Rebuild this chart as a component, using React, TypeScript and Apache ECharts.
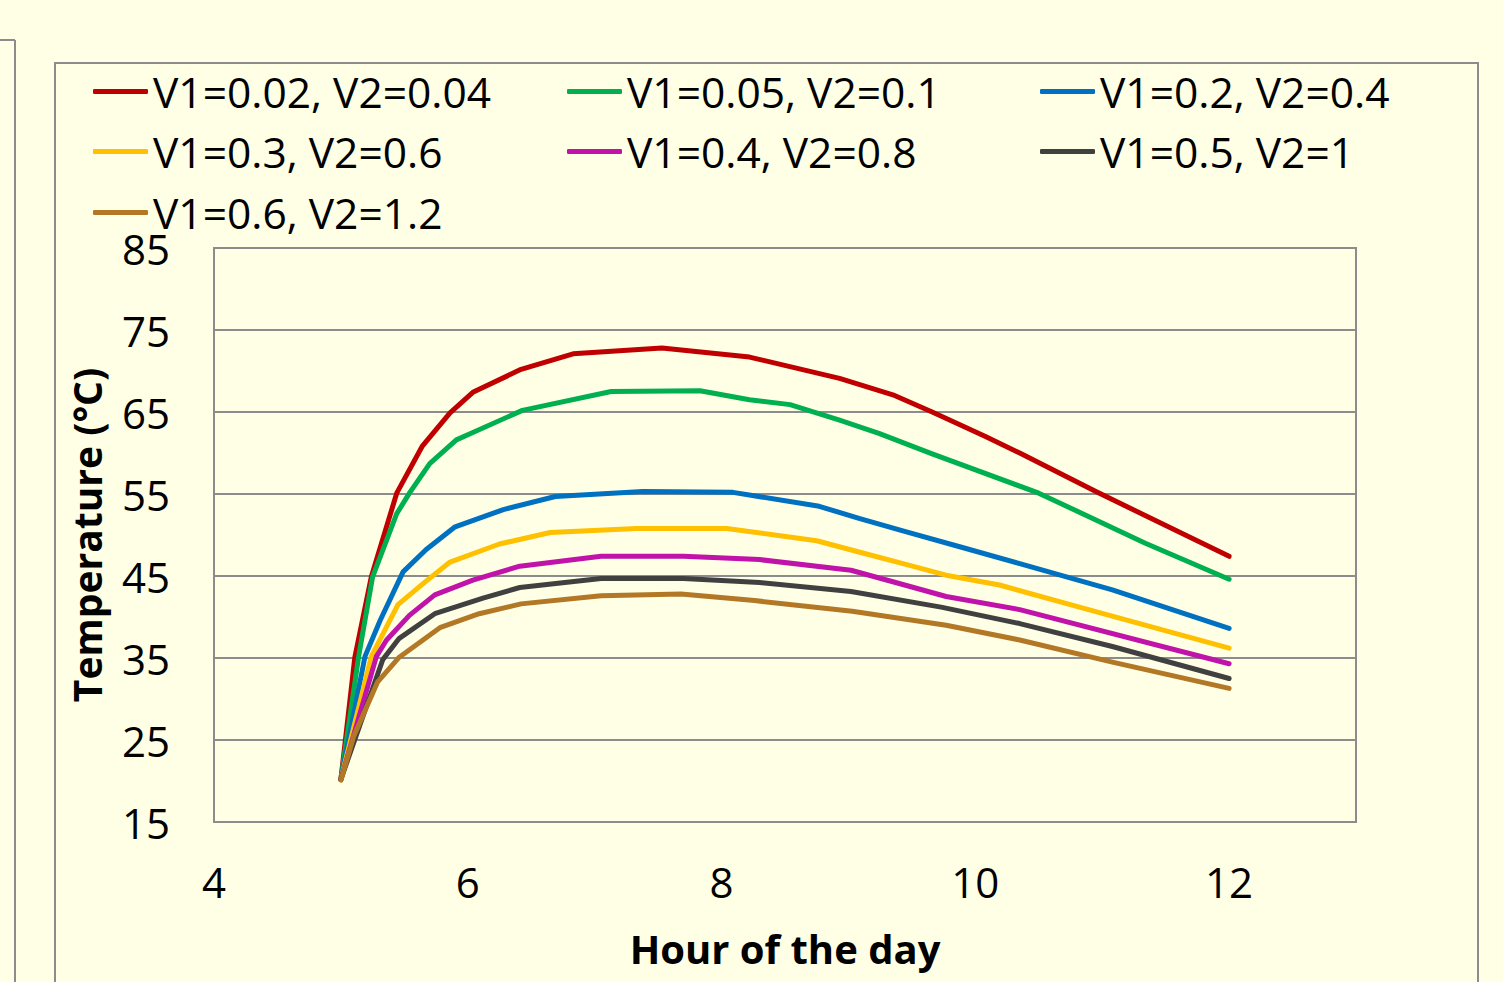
import React, { useEffect, useRef } from "react";
import * as echarts from "echarts";

const xTicks = [4, 6, 8, 10, 12];
const yTicks = [15, 25, 35, 45, 55, 65, 75, 85];

const seriesNames = [
  "V1=0.02, V2=0.04",
  "V1=0.05, V2=0.1",
  "V1=0.2, V2=0.4",
  "V1=0.3, V2=0.6",
  "V1=0.4, V2=0.8",
  "V1=0.5, V2=1",
  "V1=0.6, V2=1.2",
];

const seriesColors = ["#C00000", "#00B050", "#0070C0", "#FFC000", "#C013AA", "#404040", "#B27826"];

const s1 = [
  [5.0, 20.2], [5.11, 35.1], [5.24, 44.9], [5.44, 55.1], [5.64, 60.8], [5.86, 64.9], [6.04, 67.4],
  [6.42, 70.2], [6.83, 72.1], [7.53, 72.8], [8.22, 71.7], [8.93, 69.1], [9.35, 67.1], [9.66, 65.0],
  [10.08, 62.0], [10.35, 60.0], [10.95, 55.3], [12.0, 47.4],
];
const s2 = [
  [5.0, 20.2], [5.14, 35.2], [5.25, 44.9], [5.44, 52.6], [5.54, 55.1], [5.70, 58.7], [5.91, 61.6],
  [6.04, 62.5], [6.43, 65.2], [7.13, 67.5], [7.83, 67.6], [8.22, 66.5], [8.54, 65.9], [8.93, 64.0],
  [9.24, 62.4], [9.66, 59.9], [10.5, 55.1], [11.34, 49.0], [12.0, 44.6],
];
const s3 = [
  [5.0, 20.2], [5.19, 35.2], [5.31, 39.6], [5.49, 45.5], [5.67, 48.2], [5.90, 51.0], [6.28, 53.1],
  [6.69, 54.7], [7.38, 55.3], [8.09, 55.2], [8.77, 53.5], [9.09, 52.0], [9.45, 50.4], [9.87, 48.6],
  [10.35, 46.5], [11.08, 43.3], [12.0, 38.6],
];
const s4 = [
  [5.0, 20.2], [5.24, 35.2], [5.45, 41.5], [5.65, 44.1], [5.86, 46.7], [6.25, 48.9], [6.65, 50.3],
  [7.33, 50.8], [8.04, 50.8], [8.75, 49.3], [9.09, 47.9], [9.43, 46.5], [9.77, 45.1], [10.19, 43.9],
  [10.82, 41.2], [12.0, 36.2],
];
const s5 = [
  [5.0, 20.2], [5.28, 35.2], [5.36, 37.2], [5.54, 40.2], [5.74, 42.7], [6.04, 44.5], [6.41, 46.2],
  [7.05, 47.4], [7.70, 47.4], [8.30, 47.0], [9.02, 45.7], [9.35, 44.3], [9.77, 42.5], [10.35, 40.9],
  [12.0, 34.3],
];
const s6 = [
  [5.0, 20.2], [5.33, 34.8], [5.46, 37.4], [5.74, 40.4], [6.12, 42.3], [6.41, 43.6], [7.05, 44.7],
  [7.70, 44.7], [8.30, 44.2], [9.02, 43.1], [9.73, 41.2], [10.35, 39.2], [11.08, 36.4], [12.0, 32.5],
];
const s7 = [
  [5.0, 20.1], [5.10, 25.4], [5.29, 32.1], [5.46, 35.1], [5.78, 38.7], [6.09, 40.4], [6.42, 41.6],
  [7.05, 42.6], [7.68, 42.8], [8.26, 42.0], [9.03, 40.7], [9.77, 39.0], [10.35, 37.2], [11.08, 34.5],
  [12.0, 31.3],
];
const seriesData = [s1, s2, s3, s4, s5, s6, s7];

const FONT = "'Open Sans', 'Noto Sans', sans-serif";
const BG = "#FFFFE5";
const BORDER = "#8C8C8C";

export default function App() {
  const ref = useRef<HTMLDivElement>(null);
  useEffect(() => {
    if (!ref.current) return;
    const chart = echarts.init(ref.current, undefined, { renderer: "svg" });
    const legendLeft = [93, 567, 1040];
    const legendTop = [70, 130, 191];
    const legends = seriesNames.map((name, i) => ({
      data: [name],
      left: legendLeft[i % 3],
      top: legendTop[Math.floor(i / 3)],
      padding: 0,
      icon: "roundRect",
      itemWidth: 55,
      itemHeight: 5,
      selectedMode: false,
      textStyle: { fontFamily: FONT, fontSize: 42.5, color: "#000", padding: [0, 0, 0, 0] },
    }));
    chart.setOption({
      animation: false,
      backgroundColor: BG,
      textStyle: { fontFamily: FONT },
      legend: legends,
      grid: {
        left: 214,
        top: 248,
        right: 147,
        bottom: 160,
        show: true,
        borderColor: BORDER,
        borderWidth: 2,
        backgroundColor: "transparent",
      },
      xAxis: {
        type: "value",
        min: 4,
        max: 13,
        interval: 2,
        name: "Hour of the day",
        nameLocation: "middle",
        nameGap: 106,
        nameTextStyle: { fontFamily: FONT, fontSize: 40, fontWeight: "bold", color: "#000" },
        axisLine: { show: false },
        axisTick: { show: false },
        splitLine: { show: false },
        axisLabel: {
          fontFamily: FONT,
          fontSize: 42,
          color: "#000",
          margin: 38,
          showMaxLabel: false,
          formatter: (v: number) => (xTicks.includes(v) ? String(v) : ""),
        },
      },
      yAxis: {
        type: "value",
        min: 15,
        max: 85,
        interval: 10,
        name: "Temperature (°C)",
        nameLocation: "middle",
        nameGap: 108,
        nameRotate: 90,
        nameTextStyle: { fontFamily: FONT, fontSize: 39, fontWeight: "bold", color: "#000" },
        axisLine: { show: false },
        axisTick: { show: false },
        splitLine: { show: true, lineStyle: { color: BORDER, width: 2 } },
        axisLabel: {
          fontFamily: FONT,
          fontSize: 42,
          color: "#000",
          margin: 44,
          formatter: (v: number) => (yTicks.includes(v) ? String(v) : ""),
        },
      },
      graphic: [
        { type: "line", shape: { x1: 0, y1: 40, x2: 15, y2: 40 }, style: { stroke: BORDER, lineWidth: 2 } },
        { type: "line", shape: { x1: 15, y1: 40, x2: 15, y2: 990 }, style: { stroke: BORDER, lineWidth: 2 } },
        {
          type: "rect",
          shape: { x: 55, y: 63, width: 1423, height: 1000 },
          style: { stroke: BORDER, lineWidth: 2, fill: "transparent" },
          z: -1,
        },
      ],
      series: seriesNames.map((name, i) => ({
        name,
        type: "line",
        data: seriesData[i],
        color: seriesColors[i],
        symbol: "none",
        showSymbol: false,
        smooth: false,
        lineStyle: { color: seriesColors[i], width: 5, cap: "round", join: "round" },
        z: 2 + i,
      })),
    });
    return () => chart.dispose();
  }, []);
  return (
    <div
      ref={ref}
      style={{ position: "fixed", left: 0, top: 0, width: 1503, height: 982, background: BG }}
    />
  );
}
